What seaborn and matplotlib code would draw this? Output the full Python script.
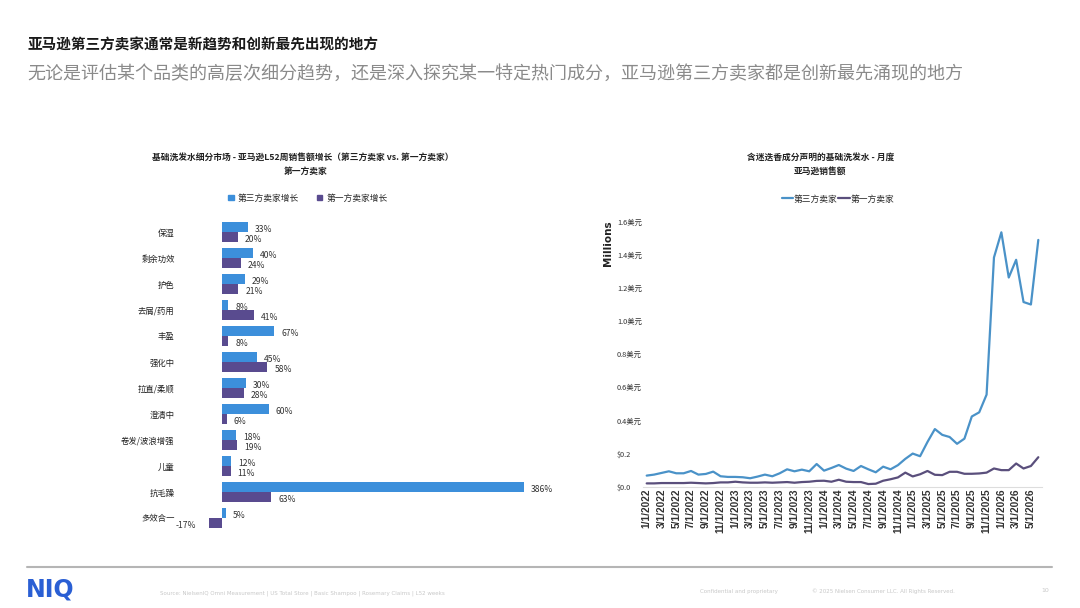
import matplotlib
matplotlib.use('Agg')
import matplotlib.pyplot as plt
from matplotlib.patches import Patch
from matplotlib.lines import Line2D
import seaborn as sns
import pandas as pd

# left chart data: L52 week sales growth (%) by sub-segment
categories = ['保湿', '剩余功效', '护色', '去屑/药用', '丰盈', '强化中', '拉直/柔顺',
              '澄清中', '卷发/波浪增强', '儿童', '抗毛躁', '多效合一']
third_growth = [33, 40, 29, 8, 67, 45, 30, 60, 18, 12, 386, 5]
first_growth = [20, 24, 21, 41, 8, 58, 28, 6, 19, 11, 63, -17]

# right chart data: monthly Amazon sales (millions), Jan 2022 - Jun 2026
third_sales = [0.067, 0.073, 0.083, 0.093, 0.081, 0.081, 0.095, 0.073, 0.077, 0.091,
               0.063, 0.059, 0.059, 0.057, 0.051, 0.061, 0.073, 0.063, 0.081, 0.105,
               0.093, 0.103, 0.093, 0.137, 0.097, 0.113, 0.131, 0.109, 0.095, 0.125,
               0.105, 0.087, 0.121, 0.105, 0.130, 0.168, 0.200, 0.184, 0.270, 0.348,
               0.313, 0.300, 0.259, 0.290, 0.424, 0.449, 0.556, 1.384, 1.536, 1.263,
               1.370, 1.115, 1.100, 1.490]
first_sales = [0.020, 0.020, 0.022, 0.022, 0.022, 0.022, 0.024, 0.022, 0.020, 0.022,
               0.026, 0.026, 0.030, 0.026, 0.024, 0.024, 0.026, 0.024, 0.026, 0.028,
               0.024, 0.028, 0.030, 0.035, 0.036, 0.030, 0.042, 0.030, 0.028, 0.028,
               0.016, 0.018, 0.036, 0.045, 0.056, 0.085, 0.062, 0.075, 0.095, 0.072,
               0.070, 0.090, 0.090, 0.078, 0.078, 0.080, 0.085, 0.110, 0.100, 0.100,
               0.140, 0.110, 0.125, 0.178]
months = pd.date_range('2022-01-01', '2026-06-01', freq='MS')
month_labels = [f'{d.month}/1/{d.year}' for d in months]
ytick_vals = [0.0, 0.2, 0.4, 0.6, 0.8, 1.0, 1.2, 1.4, 1.6]
ytick_labels = ['$0.0', '$0.2', '0.4美元', '0.6美元', '0.8美元', '1.0美元', '1.2美元', '1.4美元', '1.6美元']

sns.set_style('white')
plt.rcParams['font.family'] = ['Noto Sans CJK SC', 'DejaVu Sans']

BLUE = '#3c8fdb'
PURPLE = '#594b8f'
LBLUE = '#4a92c8'
LPURPLE = '#5a4f7c'
W, H = 1080, 608

fig = plt.figure(figsize=(10.8, 6.08), dpi=100)

# page titles
fig.text(27/W, 1-44/H, '亚马逊第三方卖家通常是新趋势和创新最先出现的地方', fontsize=10.5,
         fontweight='bold', color='#1a1a1a', va='center')
fig.text(27/W, 1-74/H, '无论是评估某个品类的高层次细分趋势，还是深入探究某一特定热门成分，亚马逊第三方卖家都是创新最先涌现的地方',
         fontsize=13, color='#8a8a8a', va='center', fontweight='light')

# ---------- left: grouped horizontal bars ----------
bar_df = pd.DataFrame({
    'cat': categories * 2,
    'val': third_growth + first_growth,
    'seller': ['第三方卖家增长'] * len(categories) + ['第一方卖家增长'] * len(categories),
})
ax1 = fig.add_axes([183/W, 1-533.6/H, 375/W, 317.2/H])
sns.barplot(data=bar_df, y='cat', x='val', hue='seller', orient='h', width=0.76,
            palette=[BLUE, PURPLE], saturation=1, linewidth=0, ax=ax1, legend=False)
ax1.set_xlim(-50, 430)
ax1.set_ylim(11.6, -0.6)
ax1.set_xticks([])
ax1.set_xlabel('')
ax1.set_ylabel('')
ax1.tick_params(axis='y', length=0, pad=6, labelsize=6, labelcolor='#222222')
sns.despine(ax=ax1, left=True, bottom=True)

for cont in ax1.containers:
    for bar in cont:
        v = bar.get_width()
        yc = bar.get_y() + bar.get_height() / 2
        if v >= 0:
            ax1.annotate(f'{v:.0f}%', (v, yc), xytext=(5, -1.5), textcoords='offset points',
                         ha='left', va='center', fontsize=6.2, color='#333333')
        else:
            ax1.annotate(f'{v:.0f}%', (v, yc), xytext=(-9, -2), textcoords='offset points',
                         ha='right', va='center', fontsize=6.2, color='#333333')

fig.text(303/W, 1-157/H, '基础洗发水细分市场 - 亚马逊L52周销售额增长（第三方卖家 vs. 第一方卖家）',
         fontsize=6.3, fontweight='bold', ha='center', va='center', color='#222222')
fig.text(306/W, 1-171/H, '第一方卖家', fontsize=6.3, fontweight='bold', ha='center',
         va='center', color='#222222')
fig.legend(handles=[Patch(color=BLUE), Patch(color=PURPLE)], labels=['第三方卖家增长', '第一方卖家增长'],
           loc='center', bbox_to_anchor=(308/W, 1-198/H), ncol=2, frameon=False, fontsize=6.3,
           handlelength=0.6, handleheight=0.6, handletextpad=0.5, columnspacing=2.0)

# ---------- right: monthly line chart ----------
line_df = pd.DataFrame({
    'idx': list(range(len(months))) * 2,
    'sales': third_sales + first_sales,
    'seller': ['第三方卖家'] * len(months) + ['第一方卖家'] * len(months),
})
ax2 = fig.add_axes([643/W, 1-486.7/H, 399/W, 265/H])
sns.lineplot(data=line_df, x='idx', y='sales', hue='seller', palette=[LBLUE, LPURPLE],
             linewidth=1.6, ax=ax2, legend=False)
ax2.set_xlim(-0.5, len(months) - 0.5)
ax2.set_ylim(0, 1.6)
ax2.set_xticks(range(0, len(months), 2))
ax2.set_xticklabels(month_labels[::2], rotation=90, fontsize=7.3, fontweight='bold',
                    family='Liberation Sans', color='#333333')
ax2.set_yticks(ytick_vals)
ax2.set_yticklabels(ytick_labels, fontsize=5.3, color='#333333', ha='left')
ax2.tick_params(axis='y', length=0, pad=18.7)
ax2.tick_params(axis='x', length=0, pad=1)
ax2.set_xlabel('')
ax2.set_ylabel('')
sns.despine(ax=ax2, left=True)
ax2.spines['bottom'].set_color('#dddddd')
ax2.spines['bottom'].set_linewidth(0.8)

fig.text(608/W, 1-243/H, 'Millions', rotation=90, fontsize=7.5, fontweight='bold',
         ha='center', va='center', color='#222222', family='DejaVu Sans')
fig.text(821/W, 1-157/H, '含迷迭香成分声明的基础洗发水 - 月度', fontsize=6.3, fontweight='bold',
         ha='center', va='center', color='#222222')
fig.text(820/W, 1-171/H, '亚马逊销售额', fontsize=6.3, fontweight='bold', ha='center',
         va='center', color='#222222')
fig.legend(handles=[Line2D([], [], color=LBLUE, lw=1.6), Line2D([], [], color=LPURPLE, lw=1.6)],
           labels=['第三方卖家', '第一方卖家'], loc='center', bbox_to_anchor=(838/W, 1-199/H),
           ncol=2, frameon=False, fontsize=6.3, handlelength=1.3, handletextpad=0.05,
           columnspacing=0.1)

# ---------- footer ----------
fig.add_artist(Line2D([27/W, 1052/W], [1-567/H, 1-567/H], color='#b5b5b5', lw=1.5))
fig.text(26/W, 1-589/H, 'NIQ', fontsize=17, fontweight='bold', color='#2a5fd4', va='center',
         family='DejaVu Sans')
fig.text(160/W, 1-593/H, 'Source: NielsenIQ Omni Measurement | US Total Store | Basic Shampoo | Rosemary Claims | L52 weeks',
         fontsize=4, color='#c8c8c8', va='center', family='DejaVu Sans')
fig.text(700/W, 1-591/H, 'Confidential and proprietary', fontsize=4, color='#c8c8c8',
         va='center', family='DejaVu Sans')
fig.text(812/W, 1-591/H, '© 2025 Nielsen Consumer LLC. All Rights Reserved.', fontsize=4,
         color='#c8c8c8', va='center', family='DejaVu Sans')
fig.text(1045/W, 1-591/H, '10', fontsize=4.5, color='#c8c8c8', va='center', ha='center',
         family='DejaVu Sans')

fig.savefig('out.png', dpi=100)
